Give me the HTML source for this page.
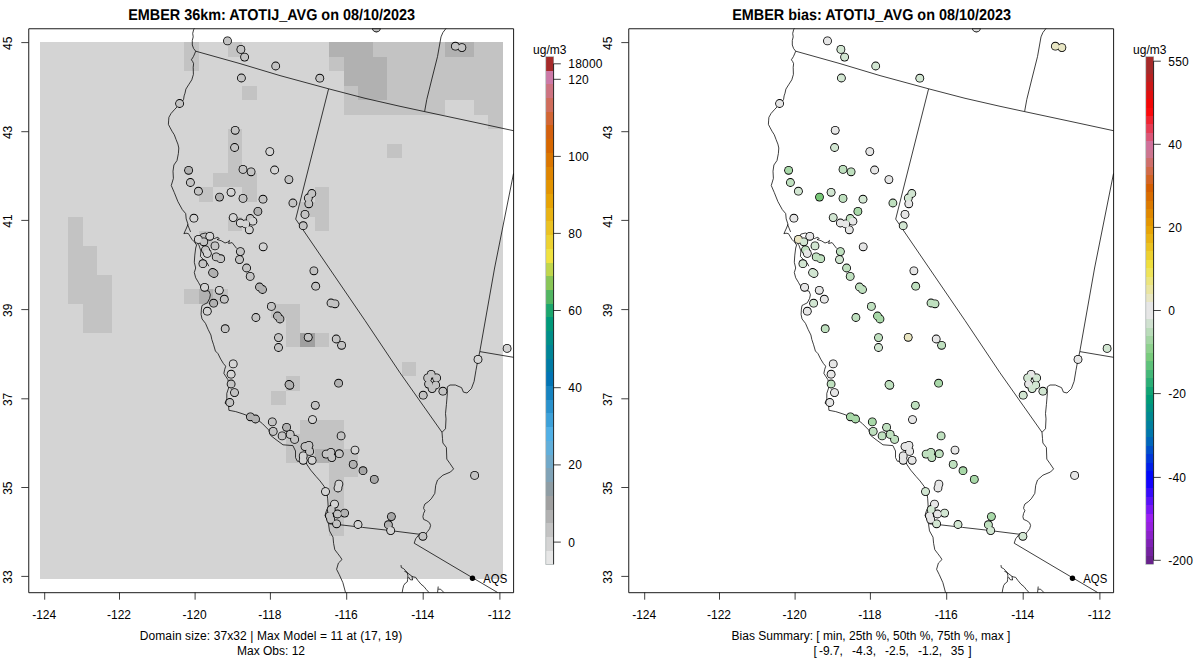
<!DOCTYPE html><html><head><meta charset="utf-8"><style>html,body{margin:0;padding:0;background:#fff;}svg{display:block;}</style></head><body>
<svg width="1200" height="672" viewBox="0 0 1200 672" style="font-family:'Liberation Sans',sans-serif;">
<rect width="1200" height="672" fill="#fff"/>
<g>
<rect x="40" y="42" width="463" height="537" fill="#d4d4d4"/>
<path d="M184.00 42.00H199.00V57.00H184.00ZM184.00 57.00H199.00V71.00H184.00ZM228.00 42.00H242.00V57.00H228.00ZM242.00 86.00H257.00V100.00H242.00ZM373.00 42.00H387.00V57.00H373.00ZM387.00 42.00H402.00V57.00H387.00ZM402.00 42.00H416.00V57.00H402.00ZM416.00 42.00H431.00V57.00H416.00ZM431.00 42.00H445.00V57.00H431.00ZM474.00 42.00H488.00V57.00H474.00ZM488.00 42.00H503.00V57.00H488.00ZM329.00 57.00H344.00V71.00H329.00ZM387.00 57.00H402.00V71.00H387.00ZM387.00 71.00H402.00V86.00H387.00ZM402.00 57.00H416.00V71.00H402.00ZM402.00 71.00H416.00V86.00H402.00ZM416.00 57.00H431.00V71.00H416.00ZM416.00 71.00H431.00V86.00H416.00ZM431.00 57.00H445.00V71.00H431.00ZM431.00 71.00H445.00V86.00H431.00ZM445.00 57.00H459.00V71.00H445.00ZM445.00 71.00H459.00V86.00H445.00ZM459.00 57.00H474.00V71.00H459.00ZM459.00 71.00H474.00V86.00H459.00ZM474.00 57.00H488.00V71.00H474.00ZM474.00 71.00H488.00V86.00H474.00ZM488.00 57.00H503.00V71.00H488.00ZM488.00 71.00H503.00V86.00H488.00ZM344.00 86.00H358.00V100.00H344.00ZM387.00 86.00H402.00V100.00H387.00ZM402.00 86.00H416.00V100.00H402.00ZM416.00 86.00H431.00V100.00H416.00ZM431.00 86.00H445.00V100.00H431.00ZM445.00 86.00H459.00V100.00H445.00ZM459.00 86.00H474.00V100.00H459.00ZM474.00 86.00H488.00V100.00H474.00ZM488.00 86.00H503.00V100.00H488.00ZM344.00 100.00H358.00V115.00H344.00ZM358.00 100.00H373.00V115.00H358.00ZM373.00 100.00H387.00V115.00H373.00ZM387.00 100.00H402.00V115.00H387.00ZM402.00 100.00H416.00V115.00H402.00ZM416.00 100.00H431.00V115.00H416.00ZM431.00 100.00H445.00V115.00H431.00ZM474.00 100.00H488.00V115.00H474.00ZM488.00 100.00H503.00V115.00H488.00ZM488.00 115.00H503.00V129.00H488.00ZM387.00 144.00H402.00V158.00H387.00ZM228.00 129.00H242.00V144.00H228.00ZM228.00 144.00H242.00V158.00H228.00ZM228.00 158.00H242.00V173.00H228.00ZM213.00 173.00H228.00V187.00H213.00ZM228.00 173.00H242.00V187.00H228.00ZM242.00 173.00H257.00V187.00H242.00ZM242.00 187.00H257.00V202.00H242.00ZM199.00 187.00H213.00V202.00H199.00ZM228.00 217.00H242.00V231.00H228.00ZM199.00 231.00H213.00V246.00H199.00ZM315.00 187.00H329.00V202.00H315.00ZM315.00 202.00H329.00V217.00H315.00ZM315.00 217.00H329.00V231.00H315.00ZM300.00 202.00H315.00V217.00H300.00ZM68.00 217.00H83.00V231.00H68.00ZM68.00 231.00H83.00V246.00H68.00ZM68.00 246.00H83.00V260.00H68.00ZM68.00 260.00H83.00V275.00H68.00ZM68.00 275.00H83.00V289.00H68.00ZM68.00 289.00H83.00V304.00H68.00ZM83.00 246.00H97.00V260.00H83.00ZM83.00 260.00H97.00V275.00H83.00ZM83.00 275.00H97.00V289.00H83.00ZM83.00 289.00H97.00V304.00H83.00ZM83.00 304.00H97.00V318.00H83.00ZM83.00 318.00H97.00V333.00H83.00ZM97.00 275.00H112.00V289.00H97.00ZM97.00 289.00H112.00V304.00H97.00ZM97.00 304.00H112.00V318.00H97.00ZM97.00 318.00H112.00V333.00H97.00ZM184.00 289.00H199.00V304.00H184.00ZM213.00 289.00H228.00V304.00H213.00ZM271.00 304.00H286.00V318.00H271.00ZM286.00 304.00H300.00V318.00H286.00ZM286.00 318.00H300.00V333.00H286.00ZM286.00 333.00H300.00V347.00H286.00ZM315.00 333.00H329.00V347.00H315.00ZM286.00 376.00H300.00V391.00H286.00ZM402.00 362.00H416.00V376.00H402.00ZM271.00 391.00H286.00V405.00H271.00ZM300.00 420.00H315.00V434.00H300.00ZM300.00 434.00H315.00V449.00H300.00ZM315.00 420.00H329.00V434.00H315.00ZM315.00 434.00H329.00V449.00H315.00ZM329.00 420.00H344.00V434.00H329.00ZM329.00 434.00H344.00V449.00H329.00ZM286.00 434.00H300.00V449.00H286.00ZM286.00 449.00H300.00V463.00H286.00ZM300.00 449.00H315.00V463.00H300.00ZM329.00 449.00H344.00V463.00H329.00ZM329.00 463.00H344.00V477.00H329.00ZM344.00 449.00H358.00V463.00H344.00ZM344.00 463.00H358.00V477.00H344.00ZM329.00 477.00H344.00V492.00H329.00ZM329.00 492.00H344.00V507.00H329.00ZM329.00 507.00H344.00V521.00H329.00ZM329.00 521.00H344.00V536.00H329.00Z" fill="#c3c3c3" shape-rendering="crispEdges"/>
<path d="M329.00 42.00H344.00V57.00H329.00ZM344.00 42.00H358.00V57.00H344.00ZM358.00 42.00H373.00V57.00H358.00ZM445.00 42.00H459.00V57.00H445.00ZM459.00 42.00H474.00V57.00H459.00ZM344.00 57.00H358.00V71.00H344.00ZM344.00 71.00H358.00V86.00H344.00ZM358.00 57.00H373.00V71.00H358.00ZM358.00 71.00H373.00V86.00H358.00ZM373.00 57.00H387.00V71.00H373.00ZM373.00 71.00H387.00V86.00H373.00ZM358.00 86.00H373.00V100.00H358.00ZM373.00 86.00H387.00V100.00H373.00Z" fill="#b1b1b1" shape-rendering="crispEdges"/>
<path d="M199.00 289.00H213.00V304.00H199.00ZM315.00 449.00H329.00V463.00H315.00Z" fill="#b1b1b1" shape-rendering="crispEdges"/>
<path d="M300.00 333.00H315.00V347.00H300.00Z" fill="#a0a0a0" shape-rendering="crispEdges"/>
<g fill="none" stroke="#000" stroke-width="0.75" stroke-linejoin="round">
<polyline points="194.30,28.50 193.60,29.80 192.70,33.40 193.20,36.90 192.30,40.50 192.30,45.00 193.60,48.50 195.70,51.20 194.60,53.90 193.40,56.60 191.40,59.80 192.70,61.60 193.60,63.70 193.20,67.30 193.40,74.40 191.80,79.80 188.60,84.80 185.90,89.10 185.00,93.20 184.10,95.90 183.60,99.40 181.80,102.10 179.60,103.90 177.30,106.60 174.30,109.80 171.10,113.40 168.90,117.30 168.60,120.90 168.40,124.40 169.80,127.10 172.00,131.20 174.30,134.80 176.10,139.60 177.90,144.10 178.80,148.00 178.40,153.40 177.00,160.50 173.90,165.00 173.00,171.20 173.40,178.40 171.25,185.50 174.30,192.60 177.90,201.60 182.30,209.60 185.70,213.60 186.20,218.90 188.00,224.30 186.50,228.00 183.90,233.70 186.00,233.20 188.40,233.60 192.00,239.50 194.20,241.70 196.60,245.00 195.70,248.00 194.80,255.10 194.30,262.30 195.70,268.00 194.30,272.50 195.70,277.80 198.40,282.30 201.40,287.60 205.50,290.30 209.10,291.20 210.40,294.80 209.60,298.40 207.30,302.80 203.75,304.60 202.00,305.50 201.40,309.10 201.10,314.40 202.00,318.90 205.50,323.40 208.20,329.60 210.90,335.00 211.80,339.40 213.60,344.80 215.40,351.00 218.00,353.70 220.70,359.10 223.40,363.50 225.70,366.20 224.60,369.80 223.90,373.40 226.10,376.90 227.90,379.60 228.75,384.10 228.60,388.00 226.80,393.40 226.80,398.70 225.00,403.20 228.60,405.90 228.90,410.30 235.70,411.60 242.90,413.90 250.00,416.60 257.10,419.25 262.50,423.70 268.75,430.00 270.50,435.30 275.00,438.90 283.00,444.80 292.90,445.60 295.50,451.00 295.50,457.60 297.30,461.20 300.00,461.60 302.70,463.00 306.25,463.00 307.10,464.80 310.70,470.10 316.00,476.40 320.00,480.90 324.10,486.30 326.80,491.60 327.70,498.80 328.20,506.80 325.90,512.20 325.00,515.75 327.70,520.20 328.60,524.70 329.50,530.90 333.00,537.20 333.60,543.40 334.80,549.70 337.50,553.25 340.20,556.80 342.00,559.50 338.40,563.10 336.60,569.30 339.30,574.70 342.90,582.70 345.50,592.50"/>
<polyline points="197.50,241.00 200.90,234.10 205.40,233.00 207.10,233.70 210.00,236.00 214.30,238.60 217.90,237.20 219.20,238.60 217.00,239.50 221.40,240.80 225.00,243.00 227.70,242.10 229.50,240.40 228.60,243.50 232.10,242.60 236.60,248.40"/>
<polyline points="197.50,243.50 199.10,245.70 200.90,251.00 200.40,256.40 203.50,259.60 207.10,262.70 208.90,266.25"/>
<polyline points="187.50,224.30 190.60,231.90"/>
<polyline points="195.70,51.20 240.00,63.60 280.00,75.60 328.60,88.80 365.00,98.30 400.00,106.30 424.60,111.60 470.00,121.30 513.50,130.70"/>
<polyline points="328.60,88.80 295.70,219.10"/>
<polyline points="295.70,219.10 329.10,268.00 365.00,320.50 400.00,372.80 442.00,432.30"/>
<polyline points="442.00,432.30 442.50,438.60 442.90,443.00 446.40,447.50 446.80,459.10 450.00,463.60 453.60,468.90 450.50,472.00 442.90,475.20 437.50,480.00 435.70,485.40 434.80,493.40 431.25,498.80 428.30,501.70 424.90,504.00 423.90,506.70 423.60,508.40 424.90,510.70 423.60,513.40 422.90,516.70 423.60,519.40 426.90,520.80 429.60,522.80 430.60,525.50 429.60,528.80 427.60,531.50 425.90,533.50 424.60,535.00"/>
<polyline points="328.60,523.80 339.30,524.70 362.50,527.40 385.70,530.00 400.00,531.80 421.40,534.50 418.70,535.00 415.70,538.70 414.20,543.20"/>
<polyline points="414.20,543.20 455.00,567.40 497.60,592.50"/>
<polyline points="442.00,432.30 445.50,428.75 446.00,418.90 445.50,413.60 446.40,404.60 447.30,393.90 447.30,386.80 450.00,385.00 455.40,385.00 461.60,387.70 463.40,392.10 467.00,393.00 471.40,388.60 474.10,381.40 475.90,370.70 477.70,360.90 479.80,351.60"/>
<polyline points="513.50,173.50 494.60,268.00 479.80,351.60"/>
<polyline points="479.80,351.60 513.50,357.30"/>
<polyline points="424.60,111.60 426.80,99.40 432.10,78.00 437.50,56.60 441.00,36.90 442.90,32.50 446.00,28.50"/>
<polyline points="401.00,565.10 401.30,567.50 403.70,568.70 405.50,570.50 407.30,572.90 407.90,575.80 407.60,579.40 407.30,581.80 405.50,583.00 403.70,585.40 402.80,588.90 402.20,592.50"/>
<polyline points="404.30,571.10 407.00,572.50 409.00,574.00 412.00,576.40 412.60,580.00 410.20,579.70 408.50,577.00"/>
<polyline points="412.00,576.40 413.80,577.00 415.60,577.30 418.00,580.60 421.00,584.20 423.90,586.50 426.30,589.50 429.00,592.50"/>
<polyline points="438.20,586.50 437.60,592.50"/>
<polyline points="438.20,589.20 440.60,589.20 443.90,592.50"/>
</g>
<clipPath id="clipL"><rect x="28.5" y="28.5" width="485" height="564"/></clipPath>
<g clip-path="url(#clipL)">
<g fill="#000">
<circle cx="227.5" cy="40.9" r="4.4"/>
<circle cx="240.9" cy="49.4" r="4.4"/>
<circle cx="244.6" cy="57.1" r="4.4"/>
<circle cx="275.7" cy="66.0" r="4.4"/>
<circle cx="241.4" cy="78.0" r="4.4"/>
<circle cx="179.6" cy="103.5" r="4.4"/>
<circle cx="235.2" cy="130.3" r="4.4"/>
<circle cx="234.6" cy="147.5" r="4.4"/>
<circle cx="319.8" cy="78.2" r="4.4"/>
<circle cx="376.4" cy="28.0" r="4.4"/>
<circle cx="455.4" cy="46.2" r="4.4"/>
<circle cx="461.9" cy="47.6" r="4.4"/>
<circle cx="269.8" cy="151.6" r="4.4"/>
<circle cx="188.6" cy="170.3" r="4.4"/>
<circle cx="243.0" cy="169.4" r="4.4"/>
<circle cx="251.1" cy="171.8" r="4.4"/>
<circle cx="274.6" cy="170.0" r="4.4"/>
<circle cx="190.4" cy="182.5" r="4.4"/>
<circle cx="198.4" cy="191.2" r="4.4"/>
<circle cx="219.5" cy="197.1" r="4.4"/>
<circle cx="231.1" cy="192.3" r="4.4"/>
<circle cx="243.0" cy="198.4" r="4.4"/>
<circle cx="263.0" cy="199.2" r="4.4"/>
<circle cx="257.9" cy="211.4" r="4.4"/>
<circle cx="193.9" cy="218.2" r="4.4"/>
<circle cx="233.2" cy="217.6" r="4.4"/>
<circle cx="240.4" cy="223.0" r="4.4"/>
<circle cx="245.7" cy="223.9" r="4.4"/>
<circle cx="250.2" cy="218.5" r="4.4"/>
<circle cx="252.9" cy="221.2" r="4.4"/>
<circle cx="249.3" cy="229.8" r="4.4"/>
<circle cx="198.4" cy="239.4" r="4.4"/>
<circle cx="203.8" cy="241.8" r="4.4"/>
<circle cx="209.8" cy="236.3" r="4.4"/>
<circle cx="215.0" cy="245.9" r="4.4"/>
<circle cx="205.5" cy="249.8" r="4.4"/>
<circle cx="207.3" cy="253.4" r="4.4"/>
<circle cx="216.2" cy="256.9" r="4.4"/>
<circle cx="220.7" cy="258.7" r="4.4"/>
<circle cx="240.4" cy="251.6" r="4.4"/>
<circle cx="239.5" cy="259.6" r="4.4"/>
<circle cx="263.2" cy="246.8" r="4.4"/>
<circle cx="202.9" cy="263.7" r="4.4"/>
<circle cx="246.6" cy="268.0" r="4.4"/>
<circle cx="288.9" cy="179.6" r="4.4"/>
<circle cx="311.8" cy="193.5" r="4.4"/>
<circle cx="308.3" cy="198.0" r="4.4"/>
<circle cx="308.8" cy="203.8" r="4.4"/>
<circle cx="292.9" cy="203.0" r="4.4"/>
<circle cx="305.0" cy="214.4" r="4.4"/>
<circle cx="303.2" cy="225.7" r="4.4"/>
<circle cx="313.9" cy="270.8" r="4.4"/>
<circle cx="212.6" cy="272.5" r="4.4"/>
<circle cx="214.0" cy="273.5" r="4.4"/>
<circle cx="250.2" cy="276.4" r="4.4"/>
<circle cx="259.5" cy="287.0" r="4.4"/>
<circle cx="262.5" cy="289.5" r="4.4"/>
<circle cx="204.6" cy="287.3" r="4.4"/>
<circle cx="219.3" cy="290.3" r="4.4"/>
<circle cx="224.3" cy="299.2" r="4.4"/>
<circle cx="213.6" cy="303.2" r="4.4"/>
<circle cx="207.3" cy="311.2" r="4.4"/>
<circle cx="225.2" cy="328.7" r="4.4"/>
<circle cx="255.9" cy="317.5" r="4.4"/>
<circle cx="271.4" cy="306.4" r="4.4"/>
<circle cx="277.5" cy="316.0" r="4.4"/>
<circle cx="280.0" cy="319.0" r="4.4"/>
<circle cx="278.5" cy="337.6" r="4.4"/>
<circle cx="278.5" cy="347.5" r="4.4"/>
<circle cx="233.2" cy="363.9" r="4.4"/>
<circle cx="231.1" cy="374.2" r="4.4"/>
<circle cx="231.1" cy="384.0" r="4.4"/>
<circle cx="315.7" cy="286.2" r="4.4"/>
<circle cx="331.0" cy="303.0" r="4.4"/>
<circle cx="335.0" cy="303.8" r="4.4"/>
<circle cx="308.2" cy="337.3" r="4.4"/>
<circle cx="336.2" cy="339.0" r="4.4"/>
<circle cx="341.6" cy="345.3" r="4.4"/>
<circle cx="289.0" cy="384.5" r="4.4"/>
<circle cx="289.8" cy="385.3" r="4.4"/>
<circle cx="338.6" cy="383.2" r="4.4"/>
<circle cx="507.1" cy="348.4" r="4.4"/>
<circle cx="478.0" cy="359.4" r="4.4"/>
<circle cx="431.2" cy="374.3" r="4.4"/>
<circle cx="427.7" cy="377.9" r="4.4"/>
<circle cx="436.6" cy="377.9" r="4.4"/>
<circle cx="428.6" cy="384.1" r="4.4"/>
<circle cx="435.7" cy="385.0" r="4.4"/>
<circle cx="432.1" cy="388.6" r="4.4"/>
<circle cx="442.9" cy="391.2" r="4.4"/>
<circle cx="423.2" cy="395.2" r="4.4"/>
<circle cx="234.5" cy="392.6" r="4.4"/>
<circle cx="229.8" cy="402.5" r="4.4"/>
<circle cx="250.4" cy="416.8" r="4.4"/>
<circle cx="255.5" cy="419.0" r="4.4"/>
<circle cx="272.3" cy="421.9" r="4.4"/>
<circle cx="273.2" cy="431.4" r="4.4"/>
<circle cx="286.6" cy="427.3" r="4.4"/>
<circle cx="282.1" cy="435.9" r="4.4"/>
<circle cx="290.2" cy="434.4" r="4.4"/>
<circle cx="294.6" cy="439.4" r="4.4"/>
<circle cx="315.3" cy="405.3" r="4.4"/>
<circle cx="312.5" cy="419.6" r="4.4"/>
<circle cx="305.0" cy="446.6" r="4.4"/>
<circle cx="308.9" cy="445.3" r="4.4"/>
<circle cx="309.6" cy="451.4" r="4.4"/>
<circle cx="303.2" cy="455.9" r="4.4"/>
<circle cx="303.2" cy="460.3" r="4.4"/>
<circle cx="312.1" cy="460.3" r="4.4"/>
<circle cx="341.1" cy="435.9" r="4.4"/>
<circle cx="326.1" cy="454.1" r="4.4"/>
<circle cx="330.9" cy="452.3" r="4.4"/>
<circle cx="331.8" cy="457.6" r="4.4"/>
<circle cx="339.3" cy="453.7" r="4.4"/>
<circle cx="355.0" cy="450.1" r="4.4"/>
<circle cx="353.2" cy="464.4" r="4.4"/>
<circle cx="363.0" cy="470.7" r="4.4"/>
<circle cx="374.3" cy="479.4" r="4.4"/>
<circle cx="338.9" cy="484.1" r="4.4"/>
<circle cx="338.0" cy="488.0" r="4.4"/>
<circle cx="325.5" cy="491.6" r="4.4"/>
<circle cx="334.5" cy="504.1" r="4.4"/>
<circle cx="474.6" cy="475.4" r="4.4"/>
<circle cx="331.2" cy="509.5" r="4.4"/>
<circle cx="337.5" cy="514.0" r="4.4"/>
<circle cx="344.6" cy="513.1" r="4.4"/>
<circle cx="329.5" cy="515.8" r="4.4"/>
<circle cx="330.7" cy="519.4" r="4.4"/>
<circle cx="336.6" cy="523.8" r="4.4"/>
<circle cx="358.0" cy="524.5" r="4.4"/>
<circle cx="391.4" cy="516.6" r="4.4"/>
<circle cx="388.4" cy="524.7" r="4.4"/>
<circle cx="390.7" cy="530.6" r="4.4"/>
<circle cx="422.9" cy="536.3" r="4.4"/>
</g><g>
<circle cx="227.5" cy="40.9" r="3.55" fill="#c3c3c3"/>
<circle cx="240.9" cy="49.4" r="3.55" fill="#c3c3c3"/>
<circle cx="244.6" cy="57.1" r="3.55" fill="#c3c3c3"/>
<circle cx="275.7" cy="66.0" r="3.55" fill="#c3c3c3"/>
<circle cx="241.4" cy="78.0" r="3.55" fill="#c3c3c3"/>
<circle cx="179.6" cy="103.5" r="3.55" fill="#c3c3c3"/>
<circle cx="235.2" cy="130.3" r="3.55" fill="#c3c3c3"/>
<circle cx="234.6" cy="147.5" r="3.55" fill="#c3c3c3"/>
<circle cx="319.8" cy="78.2" r="3.55" fill="#c3c3c3"/>
<circle cx="376.4" cy="28.0" r="3.55" fill="#c3c3c3"/>
<circle cx="455.4" cy="46.2" r="3.55" fill="#c3c3c3"/>
<circle cx="461.9" cy="47.6" r="3.55" fill="#c3c3c3"/>
<circle cx="269.8" cy="151.6" r="3.55" fill="#d4d4d4"/>
<circle cx="188.6" cy="170.3" r="3.55" fill="#b1b1b1"/>
<circle cx="243.0" cy="169.4" r="3.55" fill="#c3c3c3"/>
<circle cx="251.1" cy="171.8" r="3.55" fill="#c3c3c3"/>
<circle cx="274.6" cy="170.0" r="3.55" fill="#d4d4d4"/>
<circle cx="190.4" cy="182.5" r="3.55" fill="#c3c3c3"/>
<circle cx="198.4" cy="191.2" r="3.55" fill="#c3c3c3"/>
<circle cx="219.5" cy="197.1" r="3.55" fill="#b1b1b1"/>
<circle cx="231.1" cy="192.3" r="3.55" fill="#d4d4d4"/>
<circle cx="243.0" cy="198.4" r="3.55" fill="#c3c3c3"/>
<circle cx="263.0" cy="199.2" r="3.55" fill="#c3c3c3"/>
<circle cx="257.9" cy="211.4" r="3.55" fill="#b1b1b1"/>
<circle cx="193.9" cy="218.2" r="3.55" fill="#d4d4d4"/>
<circle cx="233.2" cy="217.6" r="3.55" fill="#d4d4d4"/>
<circle cx="240.4" cy="223.0" r="3.55" fill="#d4d4d4"/>
<circle cx="245.7" cy="223.9" r="3.55" fill="#d4d4d4"/>
<circle cx="250.2" cy="218.5" r="3.55" fill="#c3c3c3"/>
<circle cx="252.9" cy="221.2" r="3.55" fill="#d4d4d4"/>
<circle cx="249.3" cy="229.8" r="3.55" fill="#d4d4d4"/>
<circle cx="198.4" cy="239.4" r="3.55" fill="#d4d4d4"/>
<circle cx="203.8" cy="241.8" r="3.55" fill="#c3c3c3"/>
<circle cx="209.8" cy="236.3" r="3.55" fill="#d4d4d4"/>
<circle cx="215.0" cy="245.9" r="3.55" fill="#c3c3c3"/>
<circle cx="205.5" cy="249.8" r="3.55" fill="#c3c3c3"/>
<circle cx="207.3" cy="253.4" r="3.55" fill="#d4d4d4"/>
<circle cx="216.2" cy="256.9" r="3.55" fill="#c3c3c3"/>
<circle cx="220.7" cy="258.7" r="3.55" fill="#c3c3c3"/>
<circle cx="240.4" cy="251.6" r="3.55" fill="#c3c3c3"/>
<circle cx="239.5" cy="259.6" r="3.55" fill="#c3c3c3"/>
<circle cx="263.2" cy="246.8" r="3.55" fill="#d4d4d4"/>
<circle cx="202.9" cy="263.7" r="3.55" fill="#c3c3c3"/>
<circle cx="246.6" cy="268.0" r="3.55" fill="#c3c3c3"/>
<circle cx="288.9" cy="179.6" r="3.55" fill="#c3c3c3"/>
<circle cx="311.8" cy="193.5" r="3.55" fill="#c3c3c3"/>
<circle cx="308.3" cy="198.0" r="3.55" fill="#c3c3c3"/>
<circle cx="308.8" cy="203.8" r="3.55" fill="#c3c3c3"/>
<circle cx="292.9" cy="203.0" r="3.55" fill="#c3c3c3"/>
<circle cx="305.0" cy="214.4" r="3.55" fill="#c3c3c3"/>
<circle cx="303.2" cy="225.7" r="3.55" fill="#c3c3c3"/>
<circle cx="313.9" cy="270.8" r="3.55" fill="#c3c3c3"/>
<circle cx="212.6" cy="272.5" r="3.55" fill="#b1b1b1"/>
<circle cx="214.0" cy="273.5" r="3.55" fill="#b1b1b1"/>
<circle cx="250.2" cy="276.4" r="3.55" fill="#c3c3c3"/>
<circle cx="259.5" cy="287.0" r="3.55" fill="#b1b1b1"/>
<circle cx="262.5" cy="289.5" r="3.55" fill="#b1b1b1"/>
<circle cx="204.6" cy="287.3" r="3.55" fill="#d4d4d4"/>
<circle cx="219.3" cy="290.3" r="3.55" fill="#d4d4d4"/>
<circle cx="224.3" cy="299.2" r="3.55" fill="#c3c3c3"/>
<circle cx="213.6" cy="303.2" r="3.55" fill="#b1b1b1"/>
<circle cx="207.3" cy="311.2" r="3.55" fill="#d4d4d4"/>
<circle cx="225.2" cy="328.7" r="3.55" fill="#c3c3c3"/>
<circle cx="255.9" cy="317.5" r="3.55" fill="#c3c3c3"/>
<circle cx="271.4" cy="306.4" r="3.55" fill="#c3c3c3"/>
<circle cx="277.5" cy="316.0" r="3.55" fill="#b1b1b1"/>
<circle cx="280.0" cy="319.0" r="3.55" fill="#b1b1b1"/>
<circle cx="278.5" cy="337.6" r="3.55" fill="#c3c3c3"/>
<circle cx="278.5" cy="347.5" r="3.55" fill="#c3c3c3"/>
<circle cx="233.2" cy="363.9" r="3.55" fill="#d4d4d4"/>
<circle cx="231.1" cy="374.2" r="3.55" fill="#d4d4d4"/>
<circle cx="231.1" cy="384.0" r="3.55" fill="#c3c3c3"/>
<circle cx="315.7" cy="286.2" r="3.55" fill="#c3c3c3"/>
<circle cx="331.0" cy="303.0" r="3.55" fill="#c3c3c3"/>
<circle cx="335.0" cy="303.8" r="3.55" fill="#c3c3c3"/>
<circle cx="308.2" cy="337.3" r="3.55" fill="#c3c3c3"/>
<circle cx="336.2" cy="339.0" r="3.55" fill="#c3c3c3"/>
<circle cx="341.6" cy="345.3" r="3.55" fill="#c3c3c3"/>
<circle cx="289.0" cy="384.5" r="3.55" fill="#b1b1b1"/>
<circle cx="289.8" cy="385.3" r="3.55" fill="#b1b1b1"/>
<circle cx="338.6" cy="383.2" r="3.55" fill="#b1b1b1"/>
<circle cx="507.1" cy="348.4" r="3.55" fill="#d4d4d4"/>
<circle cx="478.0" cy="359.4" r="3.55" fill="#d4d4d4"/>
<circle cx="431.2" cy="374.3" r="3.55" fill="#c3c3c3"/>
<circle cx="427.7" cy="377.9" r="3.55" fill="#c3c3c3"/>
<circle cx="436.6" cy="377.9" r="3.55" fill="#c3c3c3"/>
<circle cx="428.6" cy="384.1" r="3.55" fill="#c3c3c3"/>
<circle cx="435.7" cy="385.0" r="3.55" fill="#c3c3c3"/>
<circle cx="432.1" cy="388.6" r="3.55" fill="#c3c3c3"/>
<circle cx="442.9" cy="391.2" r="3.55" fill="#c3c3c3"/>
<circle cx="423.2" cy="395.2" r="3.55" fill="#c3c3c3"/>
<circle cx="234.5" cy="392.6" r="3.55" fill="#c3c3c3"/>
<circle cx="229.8" cy="402.5" r="3.55" fill="#c3c3c3"/>
<circle cx="250.4" cy="416.8" r="3.55" fill="#b1b1b1"/>
<circle cx="255.5" cy="419.0" r="3.55" fill="#b1b1b1"/>
<circle cx="272.3" cy="421.9" r="3.55" fill="#c3c3c3"/>
<circle cx="273.2" cy="431.4" r="3.55" fill="#c3c3c3"/>
<circle cx="286.6" cy="427.3" r="3.55" fill="#b1b1b1"/>
<circle cx="282.1" cy="435.9" r="3.55" fill="#c3c3c3"/>
<circle cx="290.2" cy="434.4" r="3.55" fill="#c3c3c3"/>
<circle cx="294.6" cy="439.4" r="3.55" fill="#c3c3c3"/>
<circle cx="315.3" cy="405.3" r="3.55" fill="#c3c3c3"/>
<circle cx="312.5" cy="419.6" r="3.55" fill="#d4d4d4"/>
<circle cx="305.0" cy="446.6" r="3.55" fill="#c3c3c3"/>
<circle cx="308.9" cy="445.3" r="3.55" fill="#c3c3c3"/>
<circle cx="309.6" cy="451.4" r="3.55" fill="#c3c3c3"/>
<circle cx="303.2" cy="455.9" r="3.55" fill="#d4d4d4"/>
<circle cx="303.2" cy="460.3" r="3.55" fill="#d4d4d4"/>
<circle cx="312.1" cy="460.3" r="3.55" fill="#d4d4d4"/>
<circle cx="341.1" cy="435.9" r="3.55" fill="#c3c3c3"/>
<circle cx="326.1" cy="454.1" r="3.55" fill="#c3c3c3"/>
<circle cx="330.9" cy="452.3" r="3.55" fill="#c3c3c3"/>
<circle cx="331.8" cy="457.6" r="3.55" fill="#c3c3c3"/>
<circle cx="339.3" cy="453.7" r="3.55" fill="#c3c3c3"/>
<circle cx="355.0" cy="450.1" r="3.55" fill="#d4d4d4"/>
<circle cx="353.2" cy="464.4" r="3.55" fill="#b1b1b1"/>
<circle cx="363.0" cy="470.7" r="3.55" fill="#a6a6a6"/>
<circle cx="374.3" cy="479.4" r="3.55" fill="#a6a6a6"/>
<circle cx="338.9" cy="484.1" r="3.55" fill="#d4d4d4"/>
<circle cx="338.0" cy="488.0" r="3.55" fill="#d4d4d4"/>
<circle cx="325.5" cy="491.6" r="3.55" fill="#d4d4d4"/>
<circle cx="334.5" cy="504.1" r="3.55" fill="#d4d4d4"/>
<circle cx="474.6" cy="475.4" r="3.55" fill="#c3c3c3"/>
<circle cx="331.2" cy="509.5" r="3.55" fill="#c3c3c3"/>
<circle cx="337.5" cy="514.0" r="3.55" fill="#c3c3c3"/>
<circle cx="344.6" cy="513.1" r="3.55" fill="#b1b1b1"/>
<circle cx="329.5" cy="515.8" r="3.55" fill="#c3c3c3"/>
<circle cx="330.7" cy="519.4" r="3.55" fill="#c3c3c3"/>
<circle cx="336.6" cy="523.8" r="3.55" fill="#c3c3c3"/>
<circle cx="358.0" cy="524.5" r="3.55" fill="#d4d4d4"/>
<circle cx="391.4" cy="516.6" r="3.55" fill="#a6a6a6"/>
<circle cx="388.4" cy="524.7" r="3.55" fill="#b1b1b1"/>
<circle cx="390.7" cy="530.6" r="3.55" fill="#d4d4d4"/>
<circle cx="422.9" cy="536.3" r="3.55" fill="#c3c3c3"/>
</g></g>
<circle cx="472.5" cy="578.3" r="2.7" fill="#000"/>
<text x="483.3" y="582.7" font-size="12" textLength="23.9" lengthAdjust="spacingAndGlyphs">AQS</text>
<rect x="28.75" y="28.75" width="484.85" height="563.95" fill="none" stroke="#000" stroke-width="0.9" stroke-linejoin="round"/>
<path d="M21.3 42.6H28.5M21.3 131.7H28.5M21.3 220.4H28.5M21.3 309.6H28.5M21.3 398.8H28.5M21.3 487.5H28.5M21.3 576.4H28.5M44.7 592.5V599.7M119.5 592.5V599.7M195.1 592.5V599.7M270.4 592.5V599.7M346.7 592.5V599.7M423.2 592.5V599.7M499.9 592.5V599.7" stroke="#000" stroke-width="0.75" fill="none"/>
<text transform="translate(11.7 43.3) rotate(-90)" text-anchor="middle" font-size="12">45</text>
<text transform="translate(11.7 132.4) rotate(-90)" text-anchor="middle" font-size="12">43</text>
<text transform="translate(11.7 221.1) rotate(-90)" text-anchor="middle" font-size="12">41</text>
<text transform="translate(11.7 310.3) rotate(-90)" text-anchor="middle" font-size="12">39</text>
<text transform="translate(11.7 399.4) rotate(-90)" text-anchor="middle" font-size="12">37</text>
<text transform="translate(11.7 488.2) rotate(-90)" text-anchor="middle" font-size="12">35</text>
<text transform="translate(11.7 577.1) rotate(-90)" text-anchor="middle" font-size="12">33</text>
<text x="44.2" y="619" text-anchor="middle" font-size="12">-124</text>
<text x="119.0" y="619" text-anchor="middle" font-size="12">-122</text>
<text x="194.6" y="619" text-anchor="middle" font-size="12">-120</text>
<text x="269.9" y="619" text-anchor="middle" font-size="12">-118</text>
<text x="346.2" y="619" text-anchor="middle" font-size="12">-116</text>
<text x="422.7" y="619" text-anchor="middle" font-size="12">-114</text>
<text x="499.4" y="619" text-anchor="middle" font-size="12">-112</text>
</g>
<g>
<g fill="none" stroke="#000" stroke-width="0.75" stroke-linejoin="round">
<polyline points="794.30,28.50 793.60,29.80 792.70,33.40 793.20,36.90 792.30,40.50 792.30,45.00 793.60,48.50 795.70,51.20 794.60,53.90 793.40,56.60 791.40,59.80 792.70,61.60 793.60,63.70 793.20,67.30 793.40,74.40 791.80,79.80 788.60,84.80 785.90,89.10 785.00,93.20 784.10,95.90 783.60,99.40 781.80,102.10 779.60,103.90 777.30,106.60 774.30,109.80 771.10,113.40 768.90,117.30 768.60,120.90 768.40,124.40 769.80,127.10 772.00,131.20 774.30,134.80 776.10,139.60 777.90,144.10 778.80,148.00 778.40,153.40 777.00,160.50 773.90,165.00 773.00,171.20 773.40,178.40 771.25,185.50 774.30,192.60 777.90,201.60 782.30,209.60 785.70,213.60 786.20,218.90 788.00,224.30 786.50,228.00 783.90,233.70 786.00,233.20 788.40,233.60 792.00,239.50 794.20,241.70 796.60,245.00 795.70,248.00 794.80,255.10 794.30,262.30 795.70,268.00 794.30,272.50 795.70,277.80 798.40,282.30 801.40,287.60 805.50,290.30 809.10,291.20 810.40,294.80 809.60,298.40 807.30,302.80 803.75,304.60 802.00,305.50 801.40,309.10 801.10,314.40 802.00,318.90 805.50,323.40 808.20,329.60 810.90,335.00 811.80,339.40 813.60,344.80 815.40,351.00 818.00,353.70 820.70,359.10 823.40,363.50 825.70,366.20 824.60,369.80 823.90,373.40 826.10,376.90 827.90,379.60 828.75,384.10 828.60,388.00 826.80,393.40 826.80,398.70 825.00,403.20 828.60,405.90 828.90,410.30 835.70,411.60 842.90,413.90 850.00,416.60 857.10,419.25 862.50,423.70 868.75,430.00 870.50,435.30 875.00,438.90 883.00,444.80 892.90,445.60 895.50,451.00 895.50,457.60 897.30,461.20 900.00,461.60 902.70,463.00 906.25,463.00 907.10,464.80 910.70,470.10 916.00,476.40 920.00,480.90 924.10,486.30 926.80,491.60 927.70,498.80 928.20,506.80 925.90,512.20 925.00,515.75 927.70,520.20 928.60,524.70 929.50,530.90 933.00,537.20 933.60,543.40 934.80,549.70 937.50,553.25 940.20,556.80 942.00,559.50 938.40,563.10 936.60,569.30 939.30,574.70 942.90,582.70 945.50,592.50"/>
<polyline points="797.50,241.00 800.90,234.10 805.40,233.00 807.10,233.70 810.00,236.00 814.30,238.60 817.90,237.20 819.20,238.60 817.00,239.50 821.40,240.80 825.00,243.00 827.70,242.10 829.50,240.40 828.60,243.50 832.10,242.60 836.60,248.40"/>
<polyline points="797.50,243.50 799.10,245.70 800.90,251.00 800.40,256.40 803.50,259.60 807.10,262.70 808.90,266.25"/>
<polyline points="787.50,224.30 790.60,231.90"/>
<polyline points="795.70,51.20 840.00,63.60 880.00,75.60 928.60,88.80 965.00,98.30 1000.00,106.30 1024.60,111.60 1070.00,121.30 1113.50,130.70"/>
<polyline points="928.60,88.80 895.70,219.10"/>
<polyline points="895.70,219.10 929.10,268.00 965.00,320.50 1000.00,372.80 1042.00,432.30"/>
<polyline points="1042.00,432.30 1042.50,438.60 1042.90,443.00 1046.40,447.50 1046.80,459.10 1050.00,463.60 1053.60,468.90 1050.50,472.00 1042.90,475.20 1037.50,480.00 1035.70,485.40 1034.80,493.40 1031.25,498.80 1028.30,501.70 1024.90,504.00 1023.90,506.70 1023.60,508.40 1024.90,510.70 1023.60,513.40 1022.90,516.70 1023.60,519.40 1026.90,520.80 1029.60,522.80 1030.60,525.50 1029.60,528.80 1027.60,531.50 1025.90,533.50 1024.60,535.00"/>
<polyline points="928.60,523.80 939.30,524.70 962.50,527.40 985.70,530.00 1000.00,531.80 1021.40,534.50 1018.70,535.00 1015.70,538.70 1014.20,543.20"/>
<polyline points="1014.20,543.20 1055.00,567.40 1097.60,592.50"/>
<polyline points="1042.00,432.30 1045.50,428.75 1046.00,418.90 1045.50,413.60 1046.40,404.60 1047.30,393.90 1047.30,386.80 1050.00,385.00 1055.40,385.00 1061.60,387.70 1063.40,392.10 1067.00,393.00 1071.40,388.60 1074.10,381.40 1075.90,370.70 1077.70,360.90 1079.80,351.60"/>
<polyline points="1113.50,173.50 1094.60,268.00 1079.80,351.60"/>
<polyline points="1079.80,351.60 1113.50,357.30"/>
<polyline points="1024.60,111.60 1026.80,99.40 1032.10,78.00 1037.50,56.60 1041.00,36.90 1042.90,32.50 1046.00,28.50"/>
<polyline points="1001.00,565.10 1001.30,567.50 1003.70,568.70 1005.50,570.50 1007.30,572.90 1007.90,575.80 1007.60,579.40 1007.30,581.80 1005.50,583.00 1003.70,585.40 1002.80,588.90 1002.20,592.50"/>
<polyline points="1004.30,571.10 1007.00,572.50 1009.00,574.00 1012.00,576.40 1012.60,580.00 1010.20,579.70 1008.50,577.00"/>
<polyline points="1012.00,576.40 1013.80,577.00 1015.60,577.30 1018.00,580.60 1021.00,584.20 1023.90,586.50 1026.30,589.50 1029.00,592.50"/>
<polyline points="1038.20,586.50 1037.60,592.50"/>
<polyline points="1038.20,589.20 1040.60,589.20 1043.90,592.50"/>
</g>
<clipPath id="clipR"><rect x="628.5" y="28.5" width="485" height="564"/></clipPath>
<g clip-path="url(#clipR)">
<g fill="#000">
<circle cx="827.5" cy="40.9" r="4.4"/>
<circle cx="840.9" cy="49.4" r="4.4"/>
<circle cx="844.6" cy="57.1" r="4.4"/>
<circle cx="875.7" cy="66.0" r="4.4"/>
<circle cx="841.4" cy="78.0" r="4.4"/>
<circle cx="779.6" cy="103.5" r="4.4"/>
<circle cx="835.2" cy="130.3" r="4.4"/>
<circle cx="834.6" cy="147.5" r="4.4"/>
<circle cx="919.8" cy="78.2" r="4.4"/>
<circle cx="976.4" cy="28.0" r="4.4"/>
<circle cx="1055.4" cy="46.2" r="4.4"/>
<circle cx="1061.9" cy="47.6" r="4.4"/>
<circle cx="869.8" cy="151.6" r="4.4"/>
<circle cx="788.6" cy="170.3" r="4.4"/>
<circle cx="843.0" cy="169.4" r="4.4"/>
<circle cx="851.1" cy="171.8" r="4.4"/>
<circle cx="874.6" cy="170.0" r="4.4"/>
<circle cx="790.4" cy="182.5" r="4.4"/>
<circle cx="798.4" cy="191.2" r="4.4"/>
<circle cx="819.5" cy="197.1" r="4.4"/>
<circle cx="831.1" cy="192.3" r="4.4"/>
<circle cx="843.0" cy="198.4" r="4.4"/>
<circle cx="863.0" cy="199.2" r="4.4"/>
<circle cx="857.9" cy="211.4" r="4.4"/>
<circle cx="793.9" cy="218.2" r="4.4"/>
<circle cx="833.2" cy="217.6" r="4.4"/>
<circle cx="840.4" cy="223.0" r="4.4"/>
<circle cx="845.7" cy="223.9" r="4.4"/>
<circle cx="850.2" cy="218.5" r="4.4"/>
<circle cx="852.9" cy="221.2" r="4.4"/>
<circle cx="849.3" cy="229.8" r="4.4"/>
<circle cx="798.4" cy="239.4" r="4.4"/>
<circle cx="803.8" cy="241.8" r="4.4"/>
<circle cx="809.8" cy="236.3" r="4.4"/>
<circle cx="815.0" cy="245.9" r="4.4"/>
<circle cx="805.5" cy="249.8" r="4.4"/>
<circle cx="807.3" cy="253.4" r="4.4"/>
<circle cx="816.2" cy="256.9" r="4.4"/>
<circle cx="820.7" cy="258.7" r="4.4"/>
<circle cx="840.4" cy="251.6" r="4.4"/>
<circle cx="839.5" cy="259.6" r="4.4"/>
<circle cx="863.2" cy="246.8" r="4.4"/>
<circle cx="802.9" cy="263.7" r="4.4"/>
<circle cx="846.6" cy="268.0" r="4.4"/>
<circle cx="888.9" cy="179.6" r="4.4"/>
<circle cx="911.8" cy="193.5" r="4.4"/>
<circle cx="908.3" cy="198.0" r="4.4"/>
<circle cx="908.8" cy="203.8" r="4.4"/>
<circle cx="892.9" cy="203.0" r="4.4"/>
<circle cx="905.0" cy="214.4" r="4.4"/>
<circle cx="903.2" cy="225.7" r="4.4"/>
<circle cx="913.9" cy="270.8" r="4.4"/>
<circle cx="812.6" cy="272.5" r="4.4"/>
<circle cx="814.0" cy="273.5" r="4.4"/>
<circle cx="850.2" cy="276.4" r="4.4"/>
<circle cx="859.5" cy="287.0" r="4.4"/>
<circle cx="862.5" cy="289.5" r="4.4"/>
<circle cx="804.6" cy="287.3" r="4.4"/>
<circle cx="819.3" cy="290.3" r="4.4"/>
<circle cx="824.3" cy="299.2" r="4.4"/>
<circle cx="813.6" cy="303.2" r="4.4"/>
<circle cx="807.3" cy="311.2" r="4.4"/>
<circle cx="825.2" cy="328.7" r="4.4"/>
<circle cx="855.9" cy="317.5" r="4.4"/>
<circle cx="871.4" cy="306.4" r="4.4"/>
<circle cx="877.5" cy="316.0" r="4.4"/>
<circle cx="880.0" cy="319.0" r="4.4"/>
<circle cx="878.5" cy="337.6" r="4.4"/>
<circle cx="878.5" cy="347.5" r="4.4"/>
<circle cx="833.2" cy="363.9" r="4.4"/>
<circle cx="831.1" cy="374.2" r="4.4"/>
<circle cx="831.1" cy="384.0" r="4.4"/>
<circle cx="915.7" cy="286.2" r="4.4"/>
<circle cx="931.0" cy="303.0" r="4.4"/>
<circle cx="935.0" cy="303.8" r="4.4"/>
<circle cx="908.2" cy="337.3" r="4.4"/>
<circle cx="936.2" cy="339.0" r="4.4"/>
<circle cx="941.6" cy="345.3" r="4.4"/>
<circle cx="889.0" cy="384.5" r="4.4"/>
<circle cx="889.8" cy="385.3" r="4.4"/>
<circle cx="938.6" cy="383.2" r="4.4"/>
<circle cx="1107.1" cy="348.4" r="4.4"/>
<circle cx="1078.0" cy="359.4" r="4.4"/>
<circle cx="1031.2" cy="374.3" r="4.4"/>
<circle cx="1027.7" cy="377.9" r="4.4"/>
<circle cx="1036.6" cy="377.9" r="4.4"/>
<circle cx="1028.6" cy="384.1" r="4.4"/>
<circle cx="1035.7" cy="385.0" r="4.4"/>
<circle cx="1032.1" cy="388.6" r="4.4"/>
<circle cx="1042.9" cy="391.2" r="4.4"/>
<circle cx="1023.2" cy="395.2" r="4.4"/>
<circle cx="834.5" cy="392.6" r="4.4"/>
<circle cx="829.8" cy="402.5" r="4.4"/>
<circle cx="850.4" cy="416.8" r="4.4"/>
<circle cx="855.5" cy="419.0" r="4.4"/>
<circle cx="872.3" cy="421.9" r="4.4"/>
<circle cx="873.2" cy="431.4" r="4.4"/>
<circle cx="886.6" cy="427.3" r="4.4"/>
<circle cx="882.1" cy="435.9" r="4.4"/>
<circle cx="890.2" cy="434.4" r="4.4"/>
<circle cx="894.6" cy="439.4" r="4.4"/>
<circle cx="915.3" cy="405.3" r="4.4"/>
<circle cx="912.5" cy="419.6" r="4.4"/>
<circle cx="905.0" cy="446.6" r="4.4"/>
<circle cx="908.9" cy="445.3" r="4.4"/>
<circle cx="909.6" cy="451.4" r="4.4"/>
<circle cx="903.2" cy="455.9" r="4.4"/>
<circle cx="903.2" cy="460.3" r="4.4"/>
<circle cx="912.1" cy="460.3" r="4.4"/>
<circle cx="941.1" cy="435.9" r="4.4"/>
<circle cx="926.1" cy="454.1" r="4.4"/>
<circle cx="930.9" cy="452.3" r="4.4"/>
<circle cx="931.8" cy="457.6" r="4.4"/>
<circle cx="939.3" cy="453.7" r="4.4"/>
<circle cx="955.0" cy="450.1" r="4.4"/>
<circle cx="953.2" cy="464.4" r="4.4"/>
<circle cx="963.0" cy="470.7" r="4.4"/>
<circle cx="974.3" cy="479.4" r="4.4"/>
<circle cx="938.9" cy="484.1" r="4.4"/>
<circle cx="938.0" cy="488.0" r="4.4"/>
<circle cx="925.5" cy="491.6" r="4.4"/>
<circle cx="934.5" cy="504.1" r="4.4"/>
<circle cx="1074.6" cy="475.4" r="4.4"/>
<circle cx="931.2" cy="509.5" r="4.4"/>
<circle cx="937.5" cy="514.0" r="4.4"/>
<circle cx="944.6" cy="513.1" r="4.4"/>
<circle cx="929.5" cy="515.8" r="4.4"/>
<circle cx="930.7" cy="519.4" r="4.4"/>
<circle cx="936.6" cy="523.8" r="4.4"/>
<circle cx="958.0" cy="524.5" r="4.4"/>
<circle cx="991.4" cy="516.6" r="4.4"/>
<circle cx="988.4" cy="524.7" r="4.4"/>
<circle cx="990.7" cy="530.6" r="4.4"/>
<circle cx="1022.9" cy="536.3" r="4.4"/>
</g><g>
<circle cx="827.5" cy="40.9" r="3.55" fill="#e6e6e6"/>
<circle cx="840.9" cy="49.4" r="3.55" fill="#d2e6d2"/>
<circle cx="844.6" cy="57.1" r="3.55" fill="#d2e6d2"/>
<circle cx="875.7" cy="66.0" r="3.55" fill="#d2e6d2"/>
<circle cx="841.4" cy="78.0" r="3.55" fill="#d2e6d2"/>
<circle cx="779.6" cy="103.5" r="3.55" fill="#e6e6e6"/>
<circle cx="835.2" cy="130.3" r="3.55" fill="#e6e6e6"/>
<circle cx="834.6" cy="147.5" r="3.55" fill="#d2e6d2"/>
<circle cx="919.8" cy="78.2" r="3.55" fill="#d2e6d2"/>
<circle cx="976.4" cy="28.0" r="3.55" fill="#e6e6e6"/>
<circle cx="1055.4" cy="46.2" r="3.55" fill="#e8e6c4"/>
<circle cx="1061.9" cy="47.6" r="3.55" fill="#e8e6c4"/>
<circle cx="869.8" cy="151.6" r="3.55" fill="#e6e6e6"/>
<circle cx="788.6" cy="170.3" r="3.55" fill="#a8d8a8"/>
<circle cx="843.0" cy="169.4" r="3.55" fill="#bfe0bf"/>
<circle cx="851.1" cy="171.8" r="3.55" fill="#bfe0bf"/>
<circle cx="874.6" cy="170.0" r="3.55" fill="#e6e6e6"/>
<circle cx="790.4" cy="182.5" r="3.55" fill="#bfe0bf"/>
<circle cx="798.4" cy="191.2" r="3.55" fill="#d2e6d2"/>
<circle cx="819.5" cy="197.1" r="3.55" fill="#78c878"/>
<circle cx="831.1" cy="192.3" r="3.55" fill="#d2e6d2"/>
<circle cx="843.0" cy="198.4" r="3.55" fill="#bfe0bf"/>
<circle cx="863.0" cy="199.2" r="3.55" fill="#d2e6d2"/>
<circle cx="857.9" cy="211.4" r="3.55" fill="#a8d8a8"/>
<circle cx="793.9" cy="218.2" r="3.55" fill="#e6e6e6"/>
<circle cx="833.2" cy="217.6" r="3.55" fill="#d2e6d2"/>
<circle cx="840.4" cy="223.0" r="3.55" fill="#e6e6e6"/>
<circle cx="845.7" cy="223.9" r="3.55" fill="#e6e6e6"/>
<circle cx="850.2" cy="218.5" r="3.55" fill="#bfe0bf"/>
<circle cx="852.9" cy="221.2" r="3.55" fill="#e6e6e6"/>
<circle cx="849.3" cy="229.8" r="3.55" fill="#e6e6e6"/>
<circle cx="798.4" cy="239.4" r="3.55" fill="#e9e4c2"/>
<circle cx="803.8" cy="241.8" r="3.55" fill="#d2e6d2"/>
<circle cx="809.8" cy="236.3" r="3.55" fill="#e6e6e6"/>
<circle cx="815.0" cy="245.9" r="3.55" fill="#d2e6d2"/>
<circle cx="805.5" cy="249.8" r="3.55" fill="#bfe0bf"/>
<circle cx="807.3" cy="253.4" r="3.55" fill="#e6e6e6"/>
<circle cx="816.2" cy="256.9" r="3.55" fill="#bfe0bf"/>
<circle cx="820.7" cy="258.7" r="3.55" fill="#bfe0bf"/>
<circle cx="840.4" cy="251.6" r="3.55" fill="#bfe0bf"/>
<circle cx="839.5" cy="259.6" r="3.55" fill="#d2e6d2"/>
<circle cx="863.2" cy="246.8" r="3.55" fill="#e6e6e6"/>
<circle cx="802.9" cy="263.7" r="3.55" fill="#d2e6d2"/>
<circle cx="846.6" cy="268.0" r="3.55" fill="#bfe0bf"/>
<circle cx="888.9" cy="179.6" r="3.55" fill="#e6e6e6"/>
<circle cx="911.8" cy="193.5" r="3.55" fill="#d2e6d2"/>
<circle cx="908.3" cy="198.0" r="3.55" fill="#d2e6d2"/>
<circle cx="908.8" cy="203.8" r="3.55" fill="#e6e6e6"/>
<circle cx="892.9" cy="203.0" r="3.55" fill="#bfe0bf"/>
<circle cx="905.0" cy="214.4" r="3.55" fill="#e6e6e6"/>
<circle cx="903.2" cy="225.7" r="3.55" fill="#d2e6d2"/>
<circle cx="913.9" cy="270.8" r="3.55" fill="#e6e6e6"/>
<circle cx="812.6" cy="272.5" r="3.55" fill="#d2e6d2"/>
<circle cx="814.0" cy="273.5" r="3.55" fill="#d2e6d2"/>
<circle cx="850.2" cy="276.4" r="3.55" fill="#bfe0bf"/>
<circle cx="859.5" cy="287.0" r="3.55" fill="#bfe0bf"/>
<circle cx="862.5" cy="289.5" r="3.55" fill="#bfe0bf"/>
<circle cx="804.6" cy="287.3" r="3.55" fill="#e6e6e6"/>
<circle cx="819.3" cy="290.3" r="3.55" fill="#e6e6e6"/>
<circle cx="824.3" cy="299.2" r="3.55" fill="#e6e6e6"/>
<circle cx="813.6" cy="303.2" r="3.55" fill="#d2e6d2"/>
<circle cx="807.3" cy="311.2" r="3.55" fill="#e6e6e6"/>
<circle cx="825.2" cy="328.7" r="3.55" fill="#bfe0bf"/>
<circle cx="855.9" cy="317.5" r="3.55" fill="#bfe0bf"/>
<circle cx="871.4" cy="306.4" r="3.55" fill="#bfe0bf"/>
<circle cx="877.5" cy="316.0" r="3.55" fill="#a8d8a8"/>
<circle cx="880.0" cy="319.0" r="3.55" fill="#a8d8a8"/>
<circle cx="878.5" cy="337.6" r="3.55" fill="#bfe0bf"/>
<circle cx="878.5" cy="347.5" r="3.55" fill="#d2e6d2"/>
<circle cx="833.2" cy="363.9" r="3.55" fill="#e6e6e6"/>
<circle cx="831.1" cy="374.2" r="3.55" fill="#e6e6e6"/>
<circle cx="831.1" cy="384.0" r="3.55" fill="#bfe0bf"/>
<circle cx="915.7" cy="286.2" r="3.55" fill="#bfe0bf"/>
<circle cx="931.0" cy="303.0" r="3.55" fill="#bfe0bf"/>
<circle cx="935.0" cy="303.8" r="3.55" fill="#bfe0bf"/>
<circle cx="908.2" cy="337.3" r="3.55" fill="#e8e4c0"/>
<circle cx="936.2" cy="339.0" r="3.55" fill="#e6e6e6"/>
<circle cx="941.6" cy="345.3" r="3.55" fill="#bfe0bf"/>
<circle cx="889.0" cy="384.5" r="3.55" fill="#bfe0bf"/>
<circle cx="889.8" cy="385.3" r="3.55" fill="#bfe0bf"/>
<circle cx="938.6" cy="383.2" r="3.55" fill="#a8d8a8"/>
<circle cx="1107.1" cy="348.4" r="3.55" fill="#d2e6d2"/>
<circle cx="1078.0" cy="359.4" r="3.55" fill="#e6e6e6"/>
<circle cx="1031.2" cy="374.3" r="3.55" fill="#e6e6e6"/>
<circle cx="1027.7" cy="377.9" r="3.55" fill="#d2e6d2"/>
<circle cx="1036.6" cy="377.9" r="3.55" fill="#d2e6d2"/>
<circle cx="1028.6" cy="384.1" r="3.55" fill="#e6e6e6"/>
<circle cx="1035.7" cy="385.0" r="3.55" fill="#d2e6d2"/>
<circle cx="1032.1" cy="388.6" r="3.55" fill="#d2e6d2"/>
<circle cx="1042.9" cy="391.2" r="3.55" fill="#d2e6d2"/>
<circle cx="1023.2" cy="395.2" r="3.55" fill="#d2e6d2"/>
<circle cx="834.5" cy="392.6" r="3.55" fill="#e6e6e6"/>
<circle cx="829.8" cy="402.5" r="3.55" fill="#e6e6e6"/>
<circle cx="850.4" cy="416.8" r="3.55" fill="#a8d8a8"/>
<circle cx="855.5" cy="419.0" r="3.55" fill="#a8d8a8"/>
<circle cx="872.3" cy="421.9" r="3.55" fill="#a8d8a8"/>
<circle cx="873.2" cy="431.4" r="3.55" fill="#bfe0bf"/>
<circle cx="886.6" cy="427.3" r="3.55" fill="#bfe0bf"/>
<circle cx="882.1" cy="435.9" r="3.55" fill="#bfe0bf"/>
<circle cx="890.2" cy="434.4" r="3.55" fill="#bfe0bf"/>
<circle cx="894.6" cy="439.4" r="3.55" fill="#bfe0bf"/>
<circle cx="915.3" cy="405.3" r="3.55" fill="#bfe0bf"/>
<circle cx="912.5" cy="419.6" r="3.55" fill="#e6e6e6"/>
<circle cx="905.0" cy="446.6" r="3.55" fill="#e6e6e6"/>
<circle cx="908.9" cy="445.3" r="3.55" fill="#e6e6e6"/>
<circle cx="909.6" cy="451.4" r="3.55" fill="#e6e6e6"/>
<circle cx="903.2" cy="455.9" r="3.55" fill="#e6e6e6"/>
<circle cx="903.2" cy="460.3" r="3.55" fill="#e6e6e6"/>
<circle cx="912.1" cy="460.3" r="3.55" fill="#e6e6e6"/>
<circle cx="941.1" cy="435.9" r="3.55" fill="#bfe0bf"/>
<circle cx="926.1" cy="454.1" r="3.55" fill="#bfe0bf"/>
<circle cx="930.9" cy="452.3" r="3.55" fill="#bfe0bf"/>
<circle cx="931.8" cy="457.6" r="3.55" fill="#bfe0bf"/>
<circle cx="939.3" cy="453.7" r="3.55" fill="#bfe0bf"/>
<circle cx="955.0" cy="450.1" r="3.55" fill="#e6e6e6"/>
<circle cx="953.2" cy="464.4" r="3.55" fill="#bfe0bf"/>
<circle cx="963.0" cy="470.7" r="3.55" fill="#a8d8a8"/>
<circle cx="974.3" cy="479.4" r="3.55" fill="#a8d8a8"/>
<circle cx="938.9" cy="484.1" r="3.55" fill="#e6e6e6"/>
<circle cx="938.0" cy="488.0" r="3.55" fill="#e6e6e6"/>
<circle cx="925.5" cy="491.6" r="3.55" fill="#d2e6d2"/>
<circle cx="934.5" cy="504.1" r="3.55" fill="#e6e6e6"/>
<circle cx="1074.6" cy="475.4" r="3.55" fill="#e6e6e6"/>
<circle cx="931.2" cy="509.5" r="3.55" fill="#d2e6d2"/>
<circle cx="937.5" cy="514.0" r="3.55" fill="#e6e6e6"/>
<circle cx="944.6" cy="513.1" r="3.55" fill="#d2e6d2"/>
<circle cx="929.5" cy="515.8" r="3.55" fill="#e6e6e6"/>
<circle cx="930.7" cy="519.4" r="3.55" fill="#e6e6e6"/>
<circle cx="936.6" cy="523.8" r="3.55" fill="#d2e6d2"/>
<circle cx="958.0" cy="524.5" r="3.55" fill="#d2e6d2"/>
<circle cx="991.4" cy="516.6" r="3.55" fill="#a8d8a8"/>
<circle cx="988.4" cy="524.7" r="3.55" fill="#bfe0bf"/>
<circle cx="990.7" cy="530.6" r="3.55" fill="#d2e6d2"/>
<circle cx="1022.9" cy="536.3" r="3.55" fill="#d2e6d2"/>
</g></g>
<circle cx="1072.5" cy="578.3" r="2.7" fill="#000"/>
<text x="1083.3" y="582.7" font-size="12" textLength="23.9" lengthAdjust="spacingAndGlyphs">AQS</text>
<rect x="628.75" y="28.75" width="484.85" height="563.95" fill="none" stroke="#000" stroke-width="0.9" stroke-linejoin="round"/>
<path d="M621.3 42.6H628.5M621.3 131.7H628.5M621.3 220.4H628.5M621.3 309.6H628.5M621.3 398.8H628.5M621.3 487.5H628.5M621.3 576.4H628.5M644.7 592.5V599.7M719.5 592.5V599.7M795.1 592.5V599.7M870.4 592.5V599.7M946.7 592.5V599.7M1023.2 592.5V599.7M1099.9 592.5V599.7" stroke="#000" stroke-width="0.75" fill="none"/>
<text transform="translate(611.7 43.3) rotate(-90)" text-anchor="middle" font-size="12">45</text>
<text transform="translate(611.7 132.4) rotate(-90)" text-anchor="middle" font-size="12">43</text>
<text transform="translate(611.7 221.1) rotate(-90)" text-anchor="middle" font-size="12">41</text>
<text transform="translate(611.7 310.3) rotate(-90)" text-anchor="middle" font-size="12">39</text>
<text transform="translate(611.7 399.4) rotate(-90)" text-anchor="middle" font-size="12">37</text>
<text transform="translate(611.7 488.2) rotate(-90)" text-anchor="middle" font-size="12">35</text>
<text transform="translate(611.7 577.1) rotate(-90)" text-anchor="middle" font-size="12">33</text>
<text x="644.2" y="619" text-anchor="middle" font-size="12">-124</text>
<text x="719.0" y="619" text-anchor="middle" font-size="12">-122</text>
<text x="794.6" y="619" text-anchor="middle" font-size="12">-120</text>
<text x="869.9" y="619" text-anchor="middle" font-size="12">-118</text>
<text x="946.2" y="619" text-anchor="middle" font-size="12">-116</text>
<text x="1022.7" y="619" text-anchor="middle" font-size="12">-114</text>
<text x="1099.4" y="619" text-anchor="middle" font-size="12">-112</text>
</g>
<text transform="translate(271.6 19.95) scale(1 1.09)" text-rendering="geometricPrecision" text-anchor="middle" font-size="14.42" font-weight="bold">EMBER 36km: ATOTIJ_AVG on 08/10/2023</text>
<text transform="translate(871.6 19.95) scale(1 1.09)" text-rendering="geometricPrecision" text-anchor="middle" font-size="14.42" font-weight="bold">EMBER bias: ATOTIJ_AVG on 08/10/2023</text>
<rect x="546.00" y="57" width="8" height="14" fill="#a52a2a" shape-rendering="crispEdges"/>
<rect x="546.00" y="71" width="8" height="13" fill="#cc79a7" shape-rendering="crispEdges"/>
<rect x="546.00" y="84" width="8" height="14" fill="#ce7381" shape-rendering="crispEdges"/>
<rect x="546.00" y="98" width="8" height="14" fill="#d06d5b" shape-rendering="crispEdges"/>
<rect x="546.00" y="112" width="8" height="13" fill="#d26634" shape-rendering="crispEdges"/>
<rect x="546.00" y="125" width="8" height="14" fill="#d4600e" shape-rendering="crispEdges"/>
<rect x="546.00" y="139" width="8" height="14" fill="#d76700" shape-rendering="crispEdges"/>
<rect x="546.00" y="153" width="8" height="14" fill="#db7600" shape-rendering="crispEdges"/>
<rect x="546.00" y="167" width="8" height="13" fill="#df8500" shape-rendering="crispEdges"/>
<rect x="546.00" y="180" width="8" height="14" fill="#e39400" shape-rendering="crispEdges"/>
<rect x="546.00" y="194" width="8" height="14" fill="#e7a304" shape-rendering="crispEdges"/>
<rect x="546.00" y="208" width="8" height="13" fill="#e9b313" shape-rendering="crispEdges"/>
<rect x="546.00" y="221" width="8" height="14" fill="#ebc222" shape-rendering="crispEdges"/>
<rect x="546.00" y="235" width="8" height="14" fill="#edd231" shape-rendering="crispEdges"/>
<rect x="546.00" y="249" width="8" height="14" fill="#f0e240" shape-rendering="crispEdges"/>
<rect x="546.00" y="263" width="8" height="13" fill="#c0d64c" shape-rendering="crispEdges"/>
<rect x="546.00" y="276" width="8" height="14" fill="#89c657" shape-rendering="crispEdges"/>
<rect x="546.00" y="290" width="8" height="14" fill="#52b662" shape-rendering="crispEdges"/>
<rect x="546.00" y="304" width="8" height="13" fill="#1ba66d" shape-rendering="crispEdges"/>
<rect x="546.00" y="317" width="8" height="14" fill="#00997a" shape-rendering="crispEdges"/>
<rect x="546.00" y="331" width="8" height="14" fill="#008f89" shape-rendering="crispEdges"/>
<rect x="546.00" y="345" width="8" height="14" fill="#008597" shape-rendering="crispEdges"/>
<rect x="546.00" y="359" width="8" height="13" fill="#007ba5" shape-rendering="crispEdges"/>
<rect x="546.00" y="372" width="8" height="14" fill="#0274b4" shape-rendering="crispEdges"/>
<rect x="546.00" y="386" width="8" height="14" fill="#1683c0" shape-rendering="crispEdges"/>
<rect x="546.00" y="400" width="8" height="13" fill="#2a92cd" shape-rendering="crispEdges"/>
<rect x="546.00" y="413" width="8" height="14" fill="#3da1d9" shape-rendering="crispEdges"/>
<rect x="546.00" y="427" width="8" height="14" fill="#51b0e6" shape-rendering="crispEdges"/>
<rect x="546.00" y="441" width="8" height="14" fill="#61afdb" shape-rendering="crispEdges"/>
<rect x="546.00" y="455" width="8" height="13" fill="#71a9c9" shape-rendering="crispEdges"/>
<rect x="546.00" y="468" width="8" height="14" fill="#80a3b7" shape-rendering="crispEdges"/>
<rect x="546.00" y="482" width="8" height="14" fill="#8f9da4" shape-rendering="crispEdges"/>
<rect x="546.00" y="496" width="8" height="14" fill="#a0a0a0" shape-rendering="crispEdges"/>
<rect x="546.00" y="510" width="8" height="13" fill="#b1b1b1" shape-rendering="crispEdges"/>
<rect x="546.00" y="523" width="8" height="14" fill="#c3c3c3" shape-rendering="crispEdges"/>
<rect x="546.00" y="537" width="8" height="14" fill="#d4d4d4" shape-rendering="crispEdges"/>
<rect x="546.00" y="551" width="8" height="13" fill="#e6e6e6" shape-rendering="crispEdges"/>
<rect x="545.80" y="56.60" width="7.8" height="507.80" fill="none" stroke="#a0a8a8" stroke-width="0.7"/>
<path d="M553.6 63.8V564.4" stroke="#000" stroke-width="0.75"/>
<path d="M553.6 63.8H560.8M553.6 79.3H560.8M553.6 156.4H560.8M553.6 233.4H560.8M553.6 310.5H560.8M553.6 387.7H560.8M553.6 464.9H560.8M553.6 542.1H560.8" stroke="#000" stroke-width="0.75"/>
<text x="568.3" y="68.2" font-size="12" letter-spacing="0.2">18000</text>
<text x="568.3" y="83.8" font-size="12" letter-spacing="0.2">120</text>
<text x="568.3" y="160.8" font-size="12" letter-spacing="0.2">100</text>
<text x="568.3" y="237.8" font-size="12" letter-spacing="0.2">80</text>
<text x="568.3" y="314.9" font-size="12" letter-spacing="0.2">60</text>
<text x="568.3" y="392.1" font-size="12" letter-spacing="0.2">40</text>
<text x="568.3" y="469.3" font-size="12" letter-spacing="0.2">20</text>
<text x="568.3" y="546.5" font-size="12" letter-spacing="0.2">0</text>
<text x="549.8" y="54.2" text-anchor="middle" font-size="12">ug/m3</text>
<rect x="1146.00" y="57" width="8" height="8" fill="#a52a2a" shape-rendering="crispEdges"/>
<rect x="1146.00" y="65" width="8" height="9" fill="#a52a2a" shape-rendering="crispEdges"/>
<rect x="1146.00" y="74" width="8" height="8" fill="#b82121" shape-rendering="crispEdges"/>
<rect x="1146.00" y="82" width="8" height="9" fill="#cc1818" shape-rendering="crispEdges"/>
<rect x="1146.00" y="91" width="8" height="8" fill="#df0f0f" shape-rendering="crispEdges"/>
<rect x="1146.00" y="99" width="8" height="9" fill="#f20606" shape-rendering="crispEdges"/>
<rect x="1146.00" y="108" width="8" height="8" fill="#fb090c" shape-rendering="crispEdges"/>
<rect x="1146.00" y="116" width="8" height="8" fill="#f02330" shape-rendering="crispEdges"/>
<rect x="1146.00" y="124" width="8" height="9" fill="#e63c54" shape-rendering="crispEdges"/>
<rect x="1146.00" y="133" width="8" height="8" fill="#db5677" shape-rendering="crispEdges"/>
<rect x="1146.00" y="141" width="8" height="9" fill="#d0709b" shape-rendering="crispEdges"/>
<rect x="1146.00" y="150" width="8" height="8" fill="#cd758f" shape-rendering="crispEdges"/>
<rect x="1146.00" y="158" width="8" height="9" fill="#cf6f6b" shape-rendering="crispEdges"/>
<rect x="1146.00" y="167" width="8" height="8" fill="#d16a48" shape-rendering="crispEdges"/>
<rect x="1146.00" y="175" width="8" height="9" fill="#d36424" shape-rendering="crispEdges"/>
<rect x="1146.00" y="184" width="8" height="8" fill="#d55e00" shape-rendering="crispEdges"/>
<rect x="1146.00" y="192" width="8" height="9" fill="#d96c00" shape-rendering="crispEdges"/>
<rect x="1146.00" y="201" width="8" height="8" fill="#dc7a00" shape-rendering="crispEdges"/>
<rect x="1146.00" y="209" width="8" height="9" fill="#e08800" shape-rendering="crispEdges"/>
<rect x="1146.00" y="218" width="8" height="8" fill="#e49600" shape-rendering="crispEdges"/>
<rect x="1146.00" y="226" width="8" height="8" fill="#e7a405" shape-rendering="crispEdges"/>
<rect x="1146.00" y="234" width="8" height="9" fill="#e9b313" shape-rendering="crispEdges"/>
<rect x="1146.00" y="243" width="8" height="8" fill="#ebc221" shape-rendering="crispEdges"/>
<rect x="1146.00" y="251" width="8" height="9" fill="#edd02f" shape-rendering="crispEdges"/>
<rect x="1146.00" y="260" width="8" height="8" fill="#efdf3d" shape-rendering="crispEdges"/>
<rect x="1146.00" y="268" width="8" height="9" fill="#efe459" shape-rendering="crispEdges"/>
<rect x="1146.00" y="277" width="8" height="8" fill="#ece57d" shape-rendering="crispEdges"/>
<rect x="1146.00" y="285" width="8" height="9" fill="#eae5a0" shape-rendering="crispEdges"/>
<rect x="1146.00" y="294" width="8" height="8" fill="#e8e6c3" shape-rendering="crispEdges"/>
<rect x="1146.00" y="302" width="8" height="9" fill="#e6e6e6" shape-rendering="crispEdges"/>
<rect x="1146.00" y="311" width="8" height="8" fill="#e6e6e6" shape-rendering="crispEdges"/>
<rect x="1146.00" y="319" width="8" height="9" fill="#d0e1d0" shape-rendering="crispEdges"/>
<rect x="1146.00" y="328" width="8" height="8" fill="#badcba" shape-rendering="crispEdges"/>
<rect x="1146.00" y="336" width="8" height="8" fill="#a4d6a4" shape-rendering="crispEdges"/>
<rect x="1146.00" y="344" width="8" height="9" fill="#8ed18e" shape-rendering="crispEdges"/>
<rect x="1146.00" y="353" width="8" height="8" fill="#78cb7c" shape-rendering="crispEdges"/>
<rect x="1146.00" y="361" width="8" height="9" fill="#5ec27a" shape-rendering="crispEdges"/>
<rect x="1146.00" y="370" width="8" height="8" fill="#44b878" shape-rendering="crispEdges"/>
<rect x="1146.00" y="378" width="8" height="9" fill="#2bae76" shape-rendering="crispEdges"/>
<rect x="1146.00" y="387" width="8" height="8" fill="#11a474" shape-rendering="crispEdges"/>
<rect x="1146.00" y="395" width="8" height="9" fill="#009b77" shape-rendering="crispEdges"/>
<rect x="1146.00" y="404" width="8" height="8" fill="#009284" shape-rendering="crispEdges"/>
<rect x="1146.00" y="412" width="8" height="9" fill="#008991" shape-rendering="crispEdges"/>
<rect x="1146.00" y="421" width="8" height="8" fill="#00809e" shape-rendering="crispEdges"/>
<rect x="1146.00" y="429" width="8" height="8" fill="#0077ab" shape-rendering="crispEdges"/>
<rect x="1146.00" y="437" width="8" height="9" fill="#0066ba" shape-rendering="crispEdges"/>
<rect x="1146.00" y="446" width="8" height="8" fill="#004fca" shape-rendering="crispEdges"/>
<rect x="1146.00" y="454" width="8" height="9" fill="#0037da" shape-rendering="crispEdges"/>
<rect x="1146.00" y="463" width="8" height="8" fill="#001fea" shape-rendering="crispEdges"/>
<rect x="1146.00" y="471" width="8" height="9" fill="#0008fa" shape-rendering="crispEdges"/>
<rect x="1146.00" y="480" width="8" height="8" fill="#1604fd" shape-rendering="crispEdges"/>
<rect x="1146.00" y="488" width="8" height="9" fill="#370bfa" shape-rendering="crispEdges"/>
<rect x="1146.00" y="497" width="8" height="8" fill="#5812f7" shape-rendering="crispEdges"/>
<rect x="1146.00" y="505" width="8" height="9" fill="#7918f4" shape-rendering="crispEdges"/>
<rect x="1146.00" y="514" width="8" height="8" fill="#9a1ff1" shape-rendering="crispEdges"/>
<rect x="1146.00" y="522" width="8" height="9" fill="#9620df" shape-rendering="crispEdges"/>
<rect x="1146.00" y="531" width="8" height="8" fill="#8b21ca" shape-rendering="crispEdges"/>
<rect x="1146.00" y="539" width="8" height="8" fill="#7f21b5" shape-rendering="crispEdges"/>
<rect x="1146.00" y="547" width="8" height="9" fill="#7422a0" shape-rendering="crispEdges"/>
<rect x="1146.00" y="556" width="8" height="8" fill="#68228b" shape-rendering="crispEdges"/>
<rect x="1145.80" y="56.60" width="7.8" height="507.80" fill="none" stroke="#a0a8a8" stroke-width="0.7"/>
<path d="M1153.6 61.2V560.3" stroke="#000" stroke-width="0.75"/>
<path d="M1153.6 61.2H1160.8M1153.6 144.3H1160.8M1153.6 227.4H1160.8M1153.6 310.5H1160.8M1153.6 393.6H1160.8M1153.6 477.4H1160.8M1153.6 560.3H1160.8" stroke="#000" stroke-width="0.75"/>
<text x="1168.3" y="65.6" font-size="12" letter-spacing="0.2">550</text>
<text x="1168.3" y="148.7" font-size="12" letter-spacing="0.2">40</text>
<text x="1168.3" y="231.8" font-size="12" letter-spacing="0.2">20</text>
<text x="1168.3" y="314.9" font-size="12" letter-spacing="0.2">0</text>
<text x="1168.3" y="398.0" font-size="12" letter-spacing="0.2">-20</text>
<text x="1168.3" y="481.8" font-size="12" letter-spacing="0.2">-40</text>
<text x="1168.3" y="564.7" font-size="12" letter-spacing="0.2">-200</text>
<text x="1149.8" y="54.2" text-anchor="middle" font-size="12">ug/m3</text>
<text x="271" y="640.1" text-anchor="middle" font-size="12" textLength="262.5" lengthAdjust="spacing">Domain size: 37x32 | Max Model = 11 at (17, 19)</text>
<text x="271" y="655" text-anchor="middle" font-size="12">Max Obs: 12</text>
<text x="871" y="640.1" text-anchor="middle" font-size="12">Bias Summary: [ min, 25th %, 50th %, 75th %, max ]</text>
<text x="813.5" y="654.6" font-size="12">[</text>
<text x="818.9" y="654.6" font-size="12">-9.7,</text>
<text x="852.0" y="654.6" font-size="12">-4.3,</text>
<text x="884.9" y="654.6" font-size="12">-2.5,</text>
<text x="918.0" y="654.6" font-size="12">-1.2,</text>
<text x="950.8" y="654.6" font-size="12">35</text>
<text x="968.3" y="654.6" font-size="12">]</text>
</svg></body></html>
